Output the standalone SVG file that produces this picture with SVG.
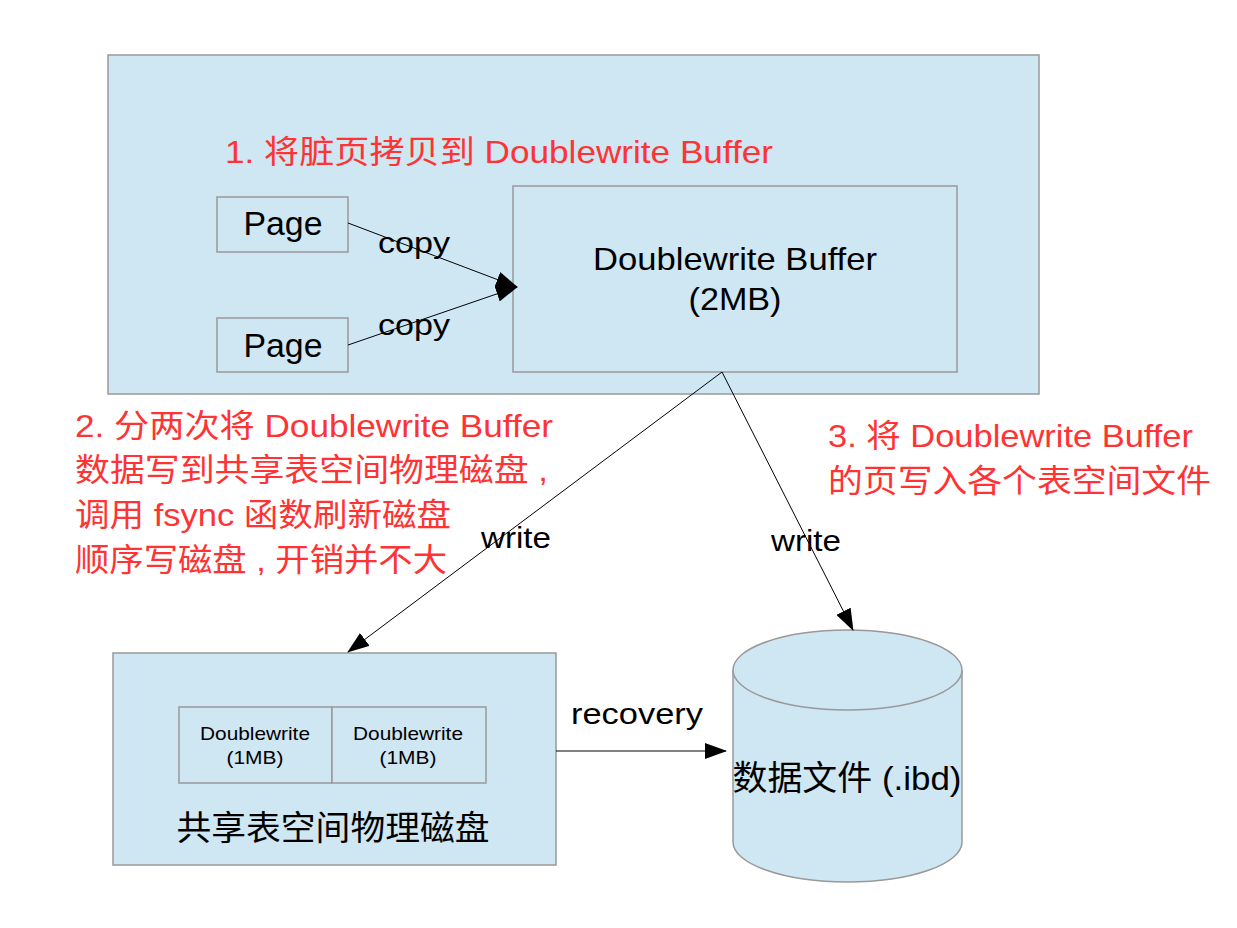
<svg xmlns="http://www.w3.org/2000/svg" width="1237" height="928" viewBox="0 0 1237 928">
<style>
.box{fill:#cfe6f3;stroke:#999;stroke-width:1.5}
.t{font-family:"Liberation Sans","Noto Sans CJK SC",sans-serif;fill:#000}
.r{font-family:"Liberation Sans","Noto Sans CJK SC",sans-serif;fill:#ff3333;font-size:32px}
.ln{stroke:#000;stroke-width:1;fill:none}
</style>
<defs>
<marker id="ah2" markerWidth="22" markerHeight="16" refX="21" refY="8" orient="auto" markerUnits="userSpaceOnUse">
<path d="M0,0 L22,8 L0,16 Z" fill="#000"/>
</marker>
</defs>
<rect width="1237" height="928" fill="#fff"/>
<g id="memory">
<rect class="box" x="108" y="55" width="931" height="339"/>
<text class="r" x="225" y="163" font-size="34" textLength="548" lengthAdjust="spacingAndGlyphs">1.  将脏页拷贝到 Doublewrite Buffer</text>
</g>
<g id="page1">
<rect class="box" x="217" y="197" width="131" height="55"/>
<text class="t" x="283" y="235" font-size="33" text-anchor="middle" textLength="79" lengthAdjust="spacingAndGlyphs">Page</text>
</g>
<g id="page2">
<rect class="box" x="217" y="318" width="131" height="54"/>
<text class="t" x="283" y="357" font-size="33" text-anchor="middle" textLength="79" lengthAdjust="spacingAndGlyphs">Page</text>
</g>
<g id="dwbuffer">
<rect class="box" x="513" y="186" width="444" height="186"/>
<text class="t" x="735" y="270" font-size="32" text-anchor="middle" textLength="284" lengthAdjust="spacingAndGlyphs">Doublewrite Buffer</text>
<text class="t" x="735" y="310" font-size="32" text-anchor="middle" textLength="93" lengthAdjust="spacingAndGlyphs">(2MB)</text>
</g>
<g id="shared">
<rect class="box" x="113" y="653" width="443" height="212"/>
<rect class="box" x="179" y="707" width="153" height="76"/>
<rect class="box" x="332" y="707" width="154" height="76"/>
<text class="t" x="255" y="740" font-size="19" text-anchor="middle" textLength="110" lengthAdjust="spacingAndGlyphs">Doublewrite</text>
<text class="t" x="255" y="764" font-size="19" text-anchor="middle" textLength="57" lengthAdjust="spacingAndGlyphs">(1MB)</text>
<text class="t" x="408" y="740" font-size="19" text-anchor="middle" textLength="110" lengthAdjust="spacingAndGlyphs">Doublewrite</text>
<text class="t" x="408" y="764" font-size="19" text-anchor="middle" textLength="57" lengthAdjust="spacingAndGlyphs">(1MB)</text>
<text class="t" x="333" y="840" font-size="34" text-anchor="middle" textLength="313" lengthAdjust="spacingAndGlyphs">共享表空间物理磁盘</text>
</g>
<g id="datafile">
<path class="box" d="M733,670 L733,842 A114.5,40 0 0 0 962,842 L962,670 A114.5,40 0 0 0 733,670 Z"/>
<path class="box" d="M733,670 A114.5,40 0 0 0 962,670" fill="none"/>
<text class="t" x="847" y="790" font-size="34" text-anchor="middle" textLength="229" lengthAdjust="spacingAndGlyphs">数据文件 (.ibd)</text>
</g>
<g id="notes">
<text class="r" x="75" y="437" textLength="478" lengthAdjust="spacingAndGlyphs">2.  分两次将 Doublewrite Buffer</text>
<text class="r" x="75" y="481" textLength="473" lengthAdjust="spacingAndGlyphs">数据写到共享表空间物理磁盘 ,</text>
<text class="r" x="75" y="526" textLength="376" lengthAdjust="spacingAndGlyphs">调用 fsync 函数刷新磁盘</text>
<text class="r" x="75" y="571" textLength="372" lengthAdjust="spacingAndGlyphs">顺序写磁盘 , 开销并不大</text>
<text class="r" x="828" y="447" textLength="365" lengthAdjust="spacingAndGlyphs">3. 将 Doublewrite Buffer</text>
<text class="r" x="828" y="492" textLength="383" lengthAdjust="spacingAndGlyphs">的页写入各个表空间文件</text>
</g>
<g id="connectors">
<line class="ln" x1="348" y1="223" x2="517" y2="287" marker-end="url(#ah2)"/>
<line class="ln" x1="348" y1="345" x2="517" y2="287" marker-end="url(#ah2)"/>
<line class="ln" x1="722" y1="372" x2="348" y2="652" marker-end="url(#ah2)"/>
<line class="ln" x1="722" y1="372" x2="853" y2="630" marker-end="url(#ah2)"/>
<line x1="556" y1="751" x2="726" y2="751" stroke="#000" stroke-width="1" marker-end="url(#ah2)"/>
<text class="t" x="378" y="253" font-size="30" textLength="72" lengthAdjust="spacingAndGlyphs">copy</text>
<text class="t" x="378" y="335" font-size="30" textLength="72" lengthAdjust="spacingAndGlyphs">copy</text>
<text class="t" x="481" y="548" font-size="30" textLength="70" lengthAdjust="spacingAndGlyphs">write</text>
<text class="t" x="771" y="551" font-size="30" textLength="70" lengthAdjust="spacingAndGlyphs">write</text>
<text class="t" x="571" y="724" font-size="30" textLength="132" lengthAdjust="spacingAndGlyphs">recovery</text>
</g>
</svg>
